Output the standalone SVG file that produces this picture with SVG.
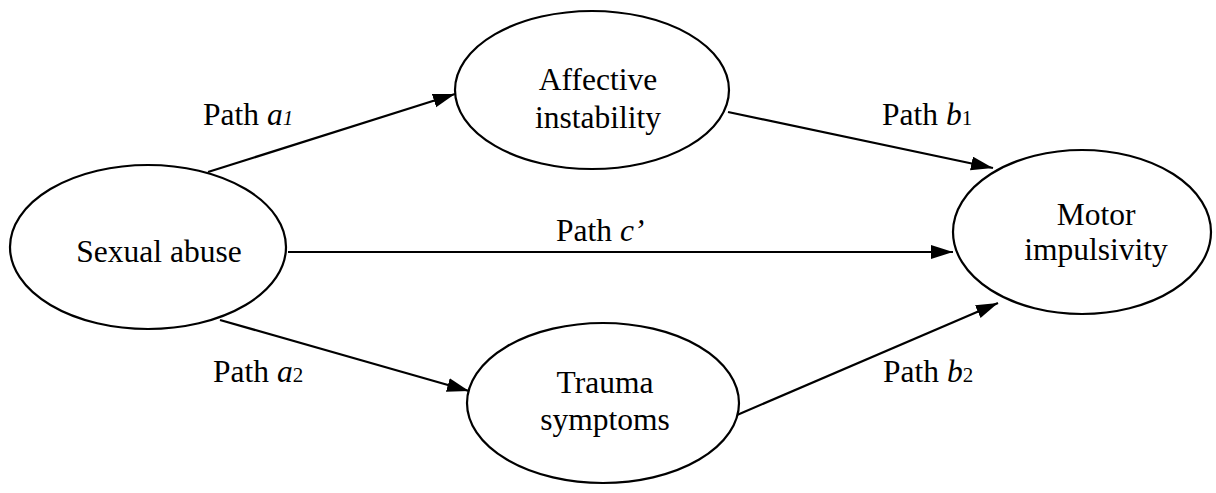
<svg xmlns="http://www.w3.org/2000/svg" width="1216" height="493" viewBox="0 0 1216 493">
<style>
  .node { fill: #fff; stroke: #000; stroke-width: 2.2; }
  text { font-family: 'Liberation Serif', 'Times New Roman', Times, serif; font-size: 31.5px; fill: #000; }
  .t { text-anchor: middle; }
  .sub { font-size: 21px; }
  .conn { stroke: #000; stroke-width: 2.2; fill: none; marker-end: url(#arr); }
</style>
<defs>
  <marker id="arr" markerUnits="userSpaceOnUse" markerWidth="24" markerHeight="16" refX="22" refY="7" orient="auto">
    <path d="M0,0 L22,7 L0,14 Z" fill="#000"/>
  </marker>
</defs>
<rect width="1216" height="493" fill="#fff"/>
<g id="connectors">
  <line class="conn" x1="208" y1="172" x2="455" y2="94"/>
  <line class="conn" x1="728" y1="112" x2="993" y2="168"/>
  <line class="conn" x1="288" y1="252" x2="953" y2="252"/>
  <line class="conn" x1="220" y1="320" x2="469" y2="391"/>
  <line class="conn" x1="737" y1="415" x2="998" y2="303"/>
</g>
<g id="node-sexual-abuse">
  <ellipse class="node" cx="148" cy="247" rx="138" ry="82"/>
  <text class="t" x="159" y="262">Sexual abuse</text>
</g>
<g id="node-affective">
  <ellipse class="node" cx="592" cy="90" rx="137" ry="79"/>
  <text class="t" x="598" y="90">Affective</text>
  <text class="t" x="598" y="128">instability</text>
</g>
<g id="node-motor">
  <ellipse class="node" cx="1082" cy="232" rx="129" ry="82"/>
  <text class="t" x="1096" y="225">Motor</text>
  <text class="t" x="1096" y="260">impulsivity</text>
</g>
<g id="node-trauma">
  <ellipse class="node" cx="603" cy="403" rx="136" ry="80"/>
  <text class="t" x="605" y="393">Trauma</text>
  <text class="t" x="605" y="430">symptoms</text>
</g>
<g id="labels">
  <text x="203" y="125">Path <tspan font-style="italic">a</tspan><tspan class="sub" font-style="italic">1</tspan></text>
  <text x="882" y="125">Path <tspan font-style="italic">b</tspan><tspan class="sub">1</tspan></text>
  <text x="556" y="241">Path <tspan font-style="italic">c’</tspan></text>
  <text x="213" y="382">Path <tspan font-style="italic">a</tspan><tspan class="sub">2</tspan></text>
  <text x="883" y="382">Path <tspan font-style="italic">b</tspan><tspan class="sub">2</tspan></text>
</g>
</svg>
